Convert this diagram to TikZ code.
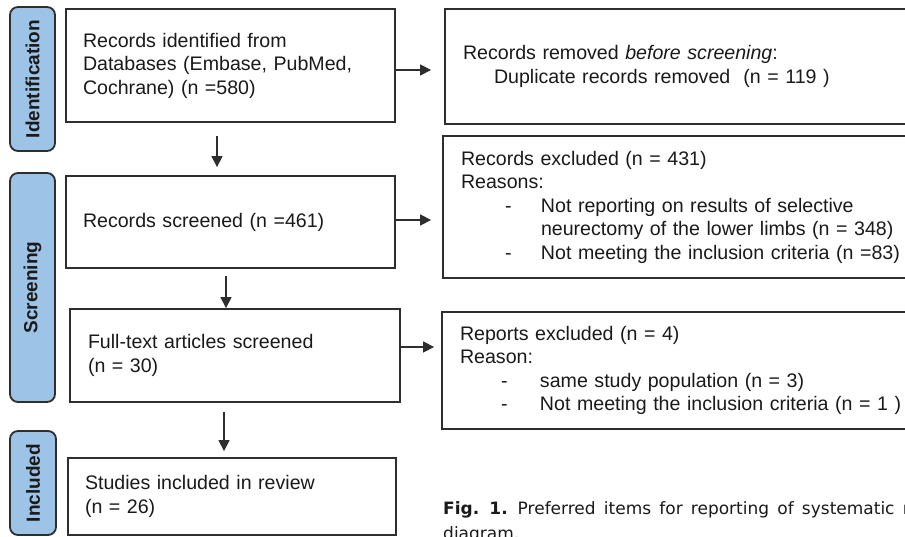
\documentclass[tikz,border=0pt]{standalone}
\usepackage{fontspec}
\setmainfont{Liberation Sans}
\newfontfamily\capfont{DejaVu Sans}
\usetikzlibrary{arrows.meta,calc}
\definecolor{lblue}{HTML}{9DC3E6}
\definecolor{edgec}{HTML}{2E2E2E}
\definecolor{txtc}{HTML}{1A1A1A}
\begin{document}
\begin{tikzpicture}[x=1pt,y=-1pt,
  box/.style={draw=edgec,line width=1.8pt,rectangle,inner xsep=17pt,inner ysep=0pt,align=left,
    font=\fontsize{19.6}{23.5}\selectfont,text=txtc},
  rbox/.style={box,inner xsep=18pt},
  phase/.style={draw=edgec,fill=lblue,line width=1.8pt,rounded corners=8pt,rotate=90,inner sep=0pt,
    font=\bfseries\fontsize{19}{20}\selectfont,text=txtc},
  arr/.style={draw=edgec,line width=1.3pt,-{Triangle[length=11pt,width=11pt]}},
  capt/.style={font=\capfont\fontsize{17}{20}\selectfont,text=txtc,inner sep=0pt,
    execute at begin node={\spaceskip=8.2pt\relax}}]
\useasboundingbox (0,0) rectangle (905,537);
\clip (0,0) rectangle (905,537);
\fill[white] (0,0) rectangle (905,537);

% phase labels
\node[phase,minimum width=144pt,minimum height=45pt] (L1) at (32.5,79) {Identification};
\node[phase,minimum width=229pt,minimum height=45pt] (L2) at (32.5,287.5) {Screening};
\node[phase,minimum width=104pt,minimum height=46pt] (L3) at (33,483) {Included};

% main boxes
\node[box,minimum width=329pt,minimum height=113pt,text width=295pt] (b1) at (230.5,65.5)
  {Records identified from\\Databases (Embase, PubMed,\\Cochrane) (n =580)};
\node[box,minimum width=329pt,minimum height=92pt,text width=295pt] (b2) at (230.5,222)
  {Records screened (n =461)};
\node[box,inner xsep=18pt,minimum width=330pt,minimum height=93pt,text width=294pt] (b3) at (235,355.5)
  {Full-text articles screened\\(n = 30)};
\node[box,minimum width=328pt,minimum height=77pt,text width=294pt] (b4) at (232,496.5)
  {Studies included in review\\(n = 26)};

% right boxes
\node[rbox,minimum width=480pt,minimum height=115pt,text width=444pt] (r1) at (685,66.5)
  {Records removed \textit{before screening}:\\\hspace*{31pt}Duplicate records removed\ \ (n = 119 )};
\node[rbox,minimum width=482pt,minimum height=142pt,text width=446pt] (r2) at (684,207)
  {Records excluded (n = 431)\\Reasons:\\
   \hspace*{44pt}\makebox[36pt][l]{-}Not reporting on results of selective\\
   \hspace*{80pt}neurectomy of the lower limbs (n = 348)\\
   \hspace*{44pt}\makebox[36pt][l]{-}Not meeting the inclusion criteria (n =83)};
\node[rbox,minimum width=483pt,minimum height=117pt,text width=447pt] (r3) at (683.5,370.5)
  {Reports excluded (n = 4)\\Reason:\\
   \hspace*{41pt}\makebox[39pt][l]{-}same study population (n = 3)\\
   \hspace*{41pt}\makebox[39pt][l]{-}Not meeting the inclusion criteria (n = 1 )};

% arrows
\draw[arr] ([xshift=-13.5pt,yshift=-13pt]b1.south) -- ([xshift=-13.5pt,yshift=8pt]b2.north);
\draw[arr] ([xshift=-4.5pt,yshift=-7pt]b2.south) -- ([xshift=-9pt]b3.north);
\draw[arr] ([xshift=-11pt,yshift=-9pt]b3.south) -- ([xshift=-8pt,yshift=6pt]b4.north);
\draw[arr,shorten >=13pt] ([yshift=-4.5pt]b1.east) -- ([yshift=-4.5pt]b1.east -| r1.west);
\draw[arr,shorten >=11pt] ([yshift=2pt]b2.east) -- ([yshift=2pt]b2.east -| r2.west);
\draw[arr,shorten >=7pt] ([yshift=8.5pt]b3.east) -- ([yshift=8.5pt]b3.east -| r3.west);

% caption
\node[capt,anchor=base west] (cap1) at (443,514.5) {\textbf{Fig. 1.} Preferred items for reporting of systematic r};
\node[capt,anchor=base west] (cap2) at (443,539) {diagram.};
\end{tikzpicture}
\end{document}
